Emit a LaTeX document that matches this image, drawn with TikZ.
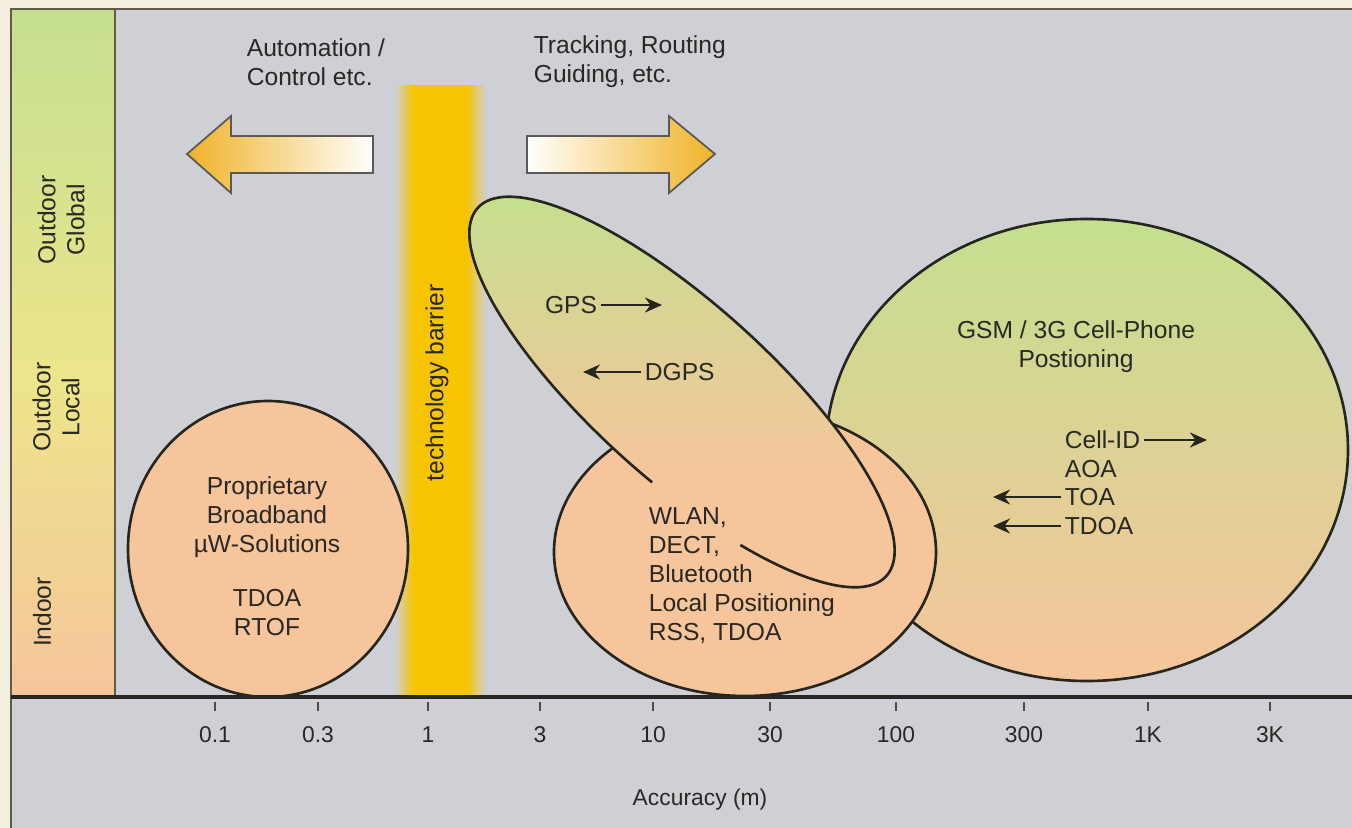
\documentclass[tikz,border=0pt]{standalone}
\usepackage{fontspec}
\setmainfont{Liberation Sans}
\usetikzlibrary{arrows.meta}
\definecolor{cgris}{RGB}{207,208,213}
\definecolor{ccrema}{RGB}{244,238,222}
\definecolor{cmarco}{RGB}{96,90,70}
\definecolor{cverde}{RGB}{196,223,143}
\definecolor{camar}{RGB}{237,229,140}
\definecolor{cmelo}{RGB}{246,197,155}
\definecolor{cbarr}{RGB}{246,196,0}
\definecolor{cflecha}{RGB}{240,178,40}
\definecolor{clinea}{RGB}{38,38,30}
\definecolor{ctexto}{RGB}{40,40,36}

\begin{document}
\begin{tikzpicture}[x=0.2mm, y=-0.2mm, font=\fontsize{14}{16.5}\selectfont, >={Stealth[length=3.4mm, width=3mm]},
    borde/.style={draw=clinea, line width=1.5pt},
    bloque/.style={draw=black!65, line width=1pt},
    txt/.style={text=ctexto, inner sep=2pt, align=center},
    zona/.style={txt, rotate=90},
    marca/.style={txt, font=\fontsize{13}{15}\selectfont},
    flechita/.style={->, line width=1.2pt, clinea}]

  \useasboundingbox (0,0) rectangle (1352,828);
  \fill[ccrema] (0,0) rectangle (1352,828);
  \fill[cgris] (11,9) rectangle (1352,828);

  % columna de zonas
  \shade[top color=cverde, bottom color=camar] (11,9) rectangle (115,380);
  \shade[top color=camar, bottom color=cmelo] (11,379) rectangle (115,697);
  \draw[cmarco, line width=1pt] (11,828) -- (11,9) -- (1352,9);
  \draw[cmarco, line width=1pt] (115,9) -- (115,697);
  \node[zona] (global) at (61,220) {Outdoor\\Global};
  \node[zona] (local) at (56,407) {Outdoor\\Local};
  \node[zona] (indoor) at (42,612) {Indoor};

  % barrera
  \shade[left color=cgris, right color=cbarr] (395,85) rectangle (413,697);
  \fill[cbarr] (413,85) rectangle (466,697);
  \shade[left color=cbarr, right color=cgris] (466,85) rectangle (486,697);
  \node[zona] (barrera) at (437,383) {technology barrier};

  % flechas grandes
  \shadedraw[bloque, left color=cflecha, right color=white]
    (187,154) -- (231,116) -- (231,136) -- (373,136) -- (373,173) -- (231,173) -- (231,193) -- cycle;
  \shadedraw[bloque, left color=white, right color=cflecha]
    (715,154) -- (669,116) -- (669,136) -- (527,136) -- (527,173) -- (669,173) -- (669,193) -- cycle;
  \node[txt, align=left, anchor=west] (autom) at (243,62) {Automation /\\Control etc.};
  \node[txt, align=left, anchor=west] (track) at (530,62) {Tracking, Routing\\Guiding, etc.};

  % zonas de tecnologia
  \shadedraw[borde, top color=cverde, middle color=camar, bottom color=cmelo] (1087,450) ellipse [x radius=261, y radius=231];
  \filldraw[borde, fill=cmelo] (745,552) ellipse [x radius=191, y radius=144];
  \begin{scope}
    \clip[shift={(682,392)}, rotate=-42] (0,0) ellipse [x radius=275, y radius=88];
    \shade[top color=cverde, middle color=camar, bottom color=cmelo] (460,190) rectangle (900,480);
    \fill[cmelo] (460,479) rectangle (900,600);
  \end{scope}
  \draw[borde, shift={(682,392)}, rotate=-42] plot[domain=82:418, samples=160] ({275*cos(\x)}, {88*sin(\x)});
  \filldraw[borde, fill=cmelo] (268,549) ellipse [x radius=140, y radius=148];

  % textos
  \node[txt] (propr) at (267,556) {Proprietary\\Broadband\\µW-Solutions\\[14pt]TDOA\\RTOF};
  \node[txt, align=left, anchor=west] (wlan) at (645,576) {WLAN,\\DECT,\\Bluetooth\\Local Positioning\\RSS, TDOA};
  \node[txt] (gsm) at (1076,347) {GSM / 3G Cell-Phone\\Postioning};
  \node[txt] (gps) at (571,305) {GPS};
  \node[txt, anchor=west] (dgps) at (641,372) {DGPS};
  \node[txt, anchor=west] (cellid) at (1061,440) {Cell-ID};
  \node[txt, anchor=west] (aoa) at (1061,469) {AOA};
  \node[txt, anchor=west] (toa) at (1061,497) {TOA};
  \node[txt, anchor=west] (tdoa) at (1061,526) {TDOA};

  % flechas pequenas
  \coordinate (gpsfin) at (662,305);
  \coordinate (dgpsfin) at (583,372);
  \coordinate (cellfin) at (1207,440);
  \coordinate (toafin) at (993,497);
  \coordinate (tdoafin) at (993,526);
  \draw[flechita] (gps) -- (gpsfin);
  \draw[flechita] (dgps) -- (dgpsfin);
  \draw[flechita] (cellid) -- (cellfin);
  \draw[flechita] (toa) -- (toafin);
  \draw[flechita] (tdoa) -- (tdoafin);

  % eje
  \coordinate (ejeini) at (11,697);
  \coordinate (ejefin) at (1352,697);
  \draw[line width=2.4pt, black!85] (ejeini) -- (ejefin);
  \foreach \px/\val in {215/0.1, 318/0.3, 428/1, 540/3, 653/10, 770/30, 896/100, 1024/300, 1148/1K, 1270/3K} {
    \draw[line width=0.8pt, black!70] (\px,702) -- (\px,711);
    \node[marca] (m\px) at (\px,735) {\val};
  }
  \node[marca] (eje) at (700,800) {Accuracy (m)};
\end{tikzpicture}
\end{document}
